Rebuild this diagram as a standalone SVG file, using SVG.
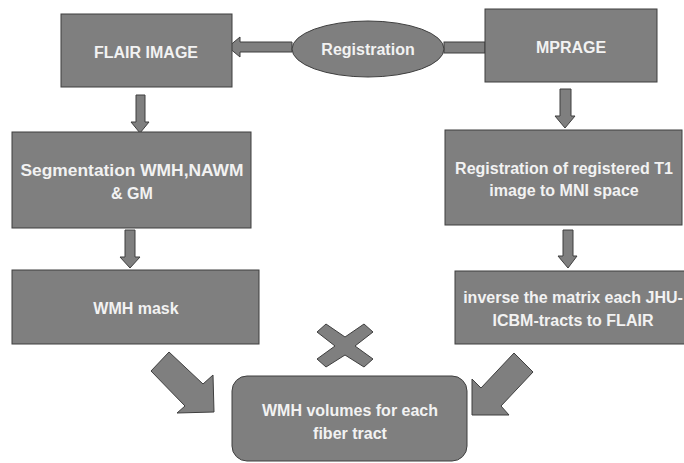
<svg xmlns="http://www.w3.org/2000/svg" width="684" height="463" viewBox="0 0 684 463">
<style>
.box{fill:#7f7f7f;stroke:#3f3f3f;stroke-width:1}
.arr{fill:#7f7f7f;stroke:#3f3f3f;stroke-width:1;stroke-linejoin:miter}
.t{font-family:"Liberation Sans",Arial,sans-serif;font-weight:bold;font-size:16px;fill:#f2f2f2;text-anchor:middle}
</style>
<rect width="684" height="463" fill="#ffffff"/>
<g id="connectors">
  <polygon class="arr" points="292,42 240,42 240,37 228,47 240,57 240,52 292,52"/>
  <rect class="arr" x="444" y="42" width="41" height="11"/>
  <polygon class="arr" points="136,95 145,95 145,122 149,122 140,133 131,122 136,122"/>
  <polygon class="arr" points="125,230 135,230 135,257 140,257 130,268 120,257 125,257"/>
  <polygon class="arr" points="560,89 571,89 571,116 575,116 565,128 555,116 560,116"/>
  <polygon class="arr" points="563,230 573,230 573,256 577,256 568,268 558,256 563,256"/>
  <polygon class="arr" points="169,352 203,384 213,375 214,412 177,413 185,406 151,371"/>
  <polygon class="arr" points="514,353 533,372 501,406 509,415 472,415 472,379 481,388"/>
</g>
<g id="multiply">
  <polygon class="arr" points="317,332 326,324 345,337 364,324 373,332 355,346 373,359 364,367 345,355 326,367 317,359 335,346"/>
</g>
<g id="flair">
  <rect class="box" x="61" y="14" width="171" height="73"/>
  <text class="t" x="146" y="58">FLAIR IMAGE</text>
</g>
<g id="registration">
  <ellipse class="box" cx="368" cy="49" rx="76" ry="28"/>
  <text class="t" x="368" y="55">Registration</text>
</g>
<g id="mprage">
  <rect class="box" x="485" y="9" width="172" height="73"/>
  <text class="t" x="571" y="53">MPRAGE</text>
</g>
<g id="segmentation">
  <rect class="box" x="12" y="132" width="239" height="96"/>
  <text class="t" x="132" y="176" textLength="223" lengthAdjust="spacingAndGlyphs">Segmentation WMH,NAWM</text>
  <text class="t" x="132" y="199">&amp; GM</text>
</g>
<g id="mni">
  <rect class="box" x="445" y="130" width="237" height="95"/>
  <text class="t" x="564" y="174">Registration of registered T1</text>
  <text class="t" x="564" y="196">image to MNI space</text>
</g>
<g id="wmhmask">
  <rect class="box" x="12" y="270" width="247" height="74"/>
  <text class="t" x="136" y="314">WMH mask</text>
</g>
<g id="inverse">
  <rect class="box" x="455" y="271" width="235" height="73"/>
  <text class="t" x="573" y="303">inverse the matrix each JHU-</text>
  <text class="t" x="573" y="326">ICBM-tracts to FLAIR</text>
</g>
<g id="volumes">
  <rect class="box" x="232" y="376" width="235" height="85" rx="15" ry="15"/>
  <text class="t" x="350" y="416">WMH volumes for each</text>
  <text class="t" x="350" y="439">fiber tract</text>
</g>
</svg>
